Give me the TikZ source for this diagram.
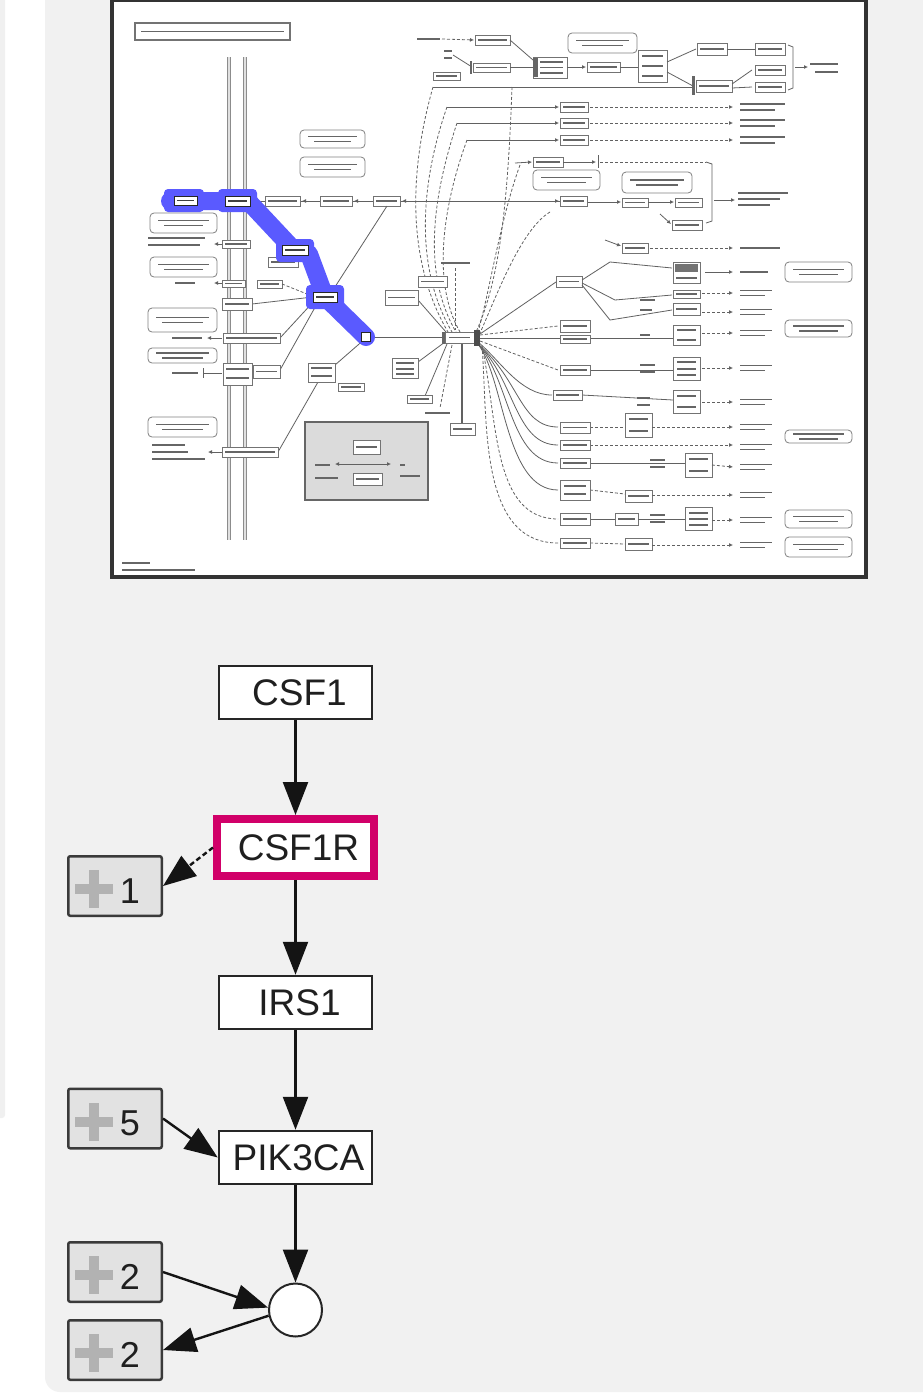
\documentclass[tikz,border=0pt]{standalone}
\usepackage{fontspec}
\setmainfont{Liberation Sans}
\usetikzlibrary{arrows.meta}
\definecolor{panel}{HTML}{F1F1F1}
\definecolor{grpfill}{HTML}{E2E2E2}
\definecolor{grpdraw}{HTML}{3A3A3A}
\definecolor{plusc}{HTML}{B2B2B2}
\definecolor{hilite}{HTML}{D10069}
\definecolor{bluepath}{HTML}{5A5AFF}
\tikzset{
  tb/.style={draw=black!55, line width=0.8pt, fill=white},
  hb/.style={draw=black!85, line width=1pt, fill=white},
  tx/.style={draw=black!60, line width=1.6pt},
  ln/.style={draw=black!62, line width=0.8pt},
  dl/.style={draw=black!62, line width=0.8pt, dash pattern=on 3pt off 2pt},
  rb/.style={draw=black!50, line width=0.8pt, rounded corners=4pt, fill=white},
  ta/.style={-{Latex[length=4pt,width=4pt]}},
  gene/.style={draw=black!85, fill=white, line width=2.5pt, minimum width=153pt,
    minimum height=53pt, inner sep=0pt, font=\fontsize{37}{42}\selectfont, text=black!88},
  grp/.style={draw=grpdraw, fill=grpfill, line width=2.5pt, minimum width=93.5pt,
    minimum height=59.5pt, inner sep=0pt, rounded corners=2pt},
  num/.style={inner sep=0pt, font=\fontsize{36}{40}\selectfont, text=black!88},
  arr/.style={-{Triangle[length=33pt,width=25pt]}, line width=2.4pt, draw=black!92},
}
\newcommand\tbx[4]{\draw[tb] ({#1},{#2}) rectangle ({#3},{#4});
  \draw[tx] ({#1+3},{(#2+#4)/2}) -- ({#3-3},{(#2+#4)/2});}
\newcommand\hbx[4]{\draw[hb] ({#1},{#2}) rectangle ({#3},{#4});
  \draw[tx,draw=black!75] ({#1+3},{(#2+#4)/2}) -- ({#3-3},{(#2+#4)/2});}
\newcommand\rbx[4]{\draw[rb] ({#1},{#2}) rectangle ({#3},{#4});
  \draw[tx,line width=1.2pt] ({#1+8},{(#2+#4)/2-2.5}) -- ({#3-8},{(#2+#4)/2-2.5});
  \draw[tx,line width=1.2pt] ({#1+14},{(#2+#4)/2+2.5}) -- ({#3-14},{(#2+#4)/2+2.5});}
\newcommand\tmk[3]{\draw[tx,line width=1.3pt] ({#1},{#3}) -- ({#2},{#3});}
\newcommand\plusmark[2]{%
  \begin{scope}[shift={(#1.center)}]
    \fill[plusc] (-40,-2) rectangle (-2,8);
    \fill[plusc] (-26,-16) rectangle (-16,22);
    \node[num] (#1n) at (15,5) {#2};
  \end{scope}}
\begin{document}
\begin{tikzpicture}[x=1pt,y=-1pt]
\useasboundingbox (0,0) rectangle (923,1398);
\fill[white] (0,0) rectangle (923,1398);
\fill[black!6, rounded corners=3pt] (-5,-5) rectangle (5,1118);
\fill[panel, rounded corners=15pt] (45,-30) rectangle (960,1392);

% ---------------- thumbnail -----------------
\fill[white] (112,0) rectangle (866,577);
% membrane
\draw[black!45, line width=3.5pt] (229,57) -- (229,540);
\draw[black!45, line width=3.5pt] (245,57) -- (245,540);
\draw[black!12, line width=1.2pt] (229,57) -- (229,540);
\draw[black!12, line width=1.2pt] (245,57) -- (245,540);
% title
\draw[tb, line width=1.2pt] (135,23) rectangle (290,40);
\draw[tx] (141,31.5) -- (284,31.5);
% upper block
\tmk{417}{440}{39}
\draw[dl,ta] (442,39) -- (474,40);
\tbx{475}{35}{510}{45}
\tmk{444}{452}{51}\tmk{444}{452}{58}
\draw[ln] (453,55) -- (472,67);
\tbx{473}{63}{510}{72}
\fill[black!60] (470,61) rectangle (472,74);
\tbx{433}{72}{460}{80}
\draw[ln] (510,40) -- (533,60);
\draw[ln] (510,67) -- (533,67);
\draw[tb] (533,57) rectangle (567,78);
\fill[black!60] (533,58) rectangle (538,77);
\tmk{540}{563}{62}\tmk{540}{563}{67.5}\tmk{540}{563}{73}
\rbx{568}{33}{637}{53}
\draw[ln,ta] (567,67) -- (586,67);
\tbx{587}{62}{620}{72}
\draw[ln] (620,67) -- (638,67);
\draw[tb] (638,50) rectangle (667,82);
\tmk{642}{663}{56}\tmk{642}{663}{66}\tmk{642}{663}{76}
\draw[ln] (667,62) -- (696,49);
\draw[ln] (667,72) -- (693,86);
\tbx{697}{43}{727}{55}
\draw[ln] (727,49) -- (755,49);
\tbx{755}{43}{785}{55}
\fill[black!60] (692,76) rectangle (695,95);
\tbx{696}{80}{732}{92}
\draw[ln] (732,84) -- (752,70);
\draw[ln] (732,88) -- (752,87);
\tbx{755}{65}{785}{75}
\tbx{755}{82}{785}{92}
\draw[ln] (788,45) -- (793,47) -- (793,88) -- (788,90);
\draw[ln,ta] (795,67) -- (808,67);
\tmk{810}{838}{64}\tmk{815}{838}{72}
\draw[ln] (433,87) -- (692,87);
% three rows
\foreach \y/\x in {107/447,123/457,140/467}{
  \draw[ln,ta] (\x,\y) -- (559,\y);
  \tbx{560}{\y-5}{588}{\y+5}
  \draw[dl,ta] (590,\y) -- (733,\y);
  \tmk{740}{785}{\y-3}\tmk{740}{775}{\y+3}
}
% converging dashed lines
\draw[dl] (433,87) .. controls (415,150) and (400,250) .. (448,332);
\draw[dl] (447,107) .. controls (425,170) and (410,260) .. (452,332);
\draw[dl] (457,123) .. controls (435,190) and (420,270) .. (456,332);
\draw[dl] (467,140) .. controls (445,200) and (430,280) .. (460,332);
\draw[dl] (512,87) .. controls (508,200) and (500,280) .. (476,332);
\draw[dl] (520,165) .. controls (500,220) and (490,290) .. (478,332);
\draw[dl] (550,212) .. controls (520,230) and (495,300) .. (480,333);
% mid upper
\draw[ln,ta] (515,163) -- (532,162);
\tbx{533}{157}{563}{167}
\draw[ln,ta] (563,162) -- (596,162);
\draw[ln] (598,155) -- (598,168);
\rbx{533}{170}{600}{190}
\rbx{300}{130}{365}{148}
\rbx{300}{157}{365}{177}
% chain y=201
\draw[ln] (250,201) -- (560,201);
\draw[ln,ta] (320,201) -- (302,201);
\draw[ln,ta] (373,201) -- (354,201);
\draw[ln,ta] (410,201) -- (402,201);
\draw[ln,ta] (540,201) -- (559,201);
\tbx{265}{196}{300}{206}
\tbx{320}{196}{352}{206}
\tbx{373}{196}{400}{206}
\tbx{560}{196}{587}{206}
\draw[ln,ta] (588,202) -- (621,202);
\tbx{622}{198}{648}{207}
\draw[ln,ta] (648,202) -- (674,202);
\tbx{675}{198}{702}{207}
\draw[ln,ta] (660,214) -- (671,224);
\tbx{672}{220}{702}{230}
\rbx{622}{172}{692}{193}
\draw[dl] (600,162) -- (706,162);
\draw[ln] (706,162) -- (712,164) -- (712,221) -- (706,223);
\draw[ln,ta] (714,200) -- (735,200);
\tmk{738}{788}{193}\tmk{738}{780}{199}\tmk{738}{770}{205}
% right rows
\draw[ln,ta] (605,240) -- (621,246);
\tbx{622}{243}{648}{253}
\draw[dl,ta] (650,248) -- (733,248);
\tmk{740}{780}{248}
\tbx{556}{276}{582}{287}
\draw[ln] (582,280) -- (610,262) -- (672,268);
\draw[ln] (582,283) -- (615,300) -- (672,295);
\draw[ln] (582,285) -- (610,320) -- (672,310);
\draw[tb] (673,262) rectangle (700,283);
\fill[black!55] (675,264) rectangle (698,272);
\tmk{676}{697}{278}
\draw[ln,ta] (705,272) -- (733,272);
\tmk{740}{768}{272}
\rbx{785}{262}{852}{282}
\tbx{673}{290}{700}{298}
\tbx{673}{303}{700}{315}
\draw[tb] (673,325) rectangle (700,345); \tmk{677}{696}{330}\tmk{677}{696}{340}
\draw[tb] (673,357) rectangle (700,380); \tmk{677}{696}{362}\tmk{677}{696}{369}\tmk{677}{696}{375}
\draw[tb] (673,390) rectangle (700,413); \tmk{677}{696}{396}\tmk{677}{696}{407}
\draw[tb] (685,453) rectangle (712,477); \tmk{689}{708}{459}\tmk{689}{708}{471}
\draw[tb] (685,507) rectangle (712,530); \tmk{689}{708}{513}\tmk{689}{708}{519}\tmk{689}{708}{525}
\draw[tb] (625,413) rectangle (652,437); \tmk{629}{648}{419}\tmk{629}{648}{431}
\tbx{625}{490}{652}{502}
\tbx{615}{513}{638}{525}
\tbx{625}{538}{652}{550}
\tmk{640}{655}{300}\tmk{640}{652}{310}\tmk{640}{650}{335}
\tmk{640}{655}{365}\tmk{640}{655}{372}\tmk{637}{650}{398}\tmk{637}{650}{405}
\tmk{650}{665}{460}\tmk{650}{665}{467}\tmk{650}{665}{515}\tmk{650}{665}{522}
\foreach \y in {293,312,333,368,402}{\draw[dl,ta] (702,\y) -- (733,\y);}
\foreach \y in {293,312,333,368,402,427,447,467,495,520,545}{
  \tmk{740}{772}{\y-2.5}\tmk{740}{765}{\y+2.5}}
\rbx{785}{320}{852}{337}
\rbx{785}{430}{852}{443}
\rbx{785}{510}{852}{528}
\rbx{785}{537}{852}{557}
% column x 560-590
\draw[ln] (480,338) -- (673,338);
\draw[ln] (590,370) -- (673,370);
\draw[ln] (582,395) -- (673,400);
\draw[dl] (590,427) -- (625,427); \draw[dl,ta] (652,427) -- (733,427);
\draw[dl,ta] (590,445) -- (733,445);
\draw[ln] (590,463) -- (685,463); \draw[dl,ta] (712,465) -- (733,467);
\draw[dl] (590,490) -- (625,494); \draw[dl,ta] (652,495) -- (733,495);
\draw[ln] (590,519) -- (615,519); \draw[ln] (638,519) -- (685,519); \draw[dl,ta] (712,520) -- (733,520);
\draw[dl] (590,543) -- (625,544); \draw[dl,ta] (652,545) -- (733,545);
\draw[dl] (480,335) -- (558,326);
\draw[dl] (480,341) -- (558,370);
\draw[ln] (478,342) .. controls (500,360) and (520,395) .. (552,395);
\foreach \y/\c in {427/520,445/515,463/510,490/505}{
  \draw[ln] (478,344) .. controls (\c,380) and (\c,\y) .. (558,\y);}
\draw[dl] (482,346) .. controls (498,420) and (492,519) .. (558,519);
\draw[dl] (482,346) .. controls (488,420) and (478,543) .. (558,543);
\draw[ln] (556,282) -- (480,334);
\tbx{560}{320}{590}{332}
\tbx{560}{335}{590}{343}
\tbx{560}{365}{590}{375}
\tbx{553}{390}{582}{400}
\tbx{560}{422}{590}{433}
\tbx{560}{440}{590}{450}
\tbx{560}{458}{590}{468}
\draw[tb] (560,480) rectangle (590,500); \tmk{564}{586}{486}\tmk{564}{586}{494}
\tbx{560}{513}{590}{525}
\tbx{560}{538}{590}{548}
% central node
\draw[ln] (368,337) -- (444,337);
\draw[ln] (445,342) -- (418,362);
\draw[ln] (447,344) -- (425,396);
\draw[dl] (452,345) -- (440,408);
\draw[ln] (418,300) -- (446,332);
\draw[ln] (387,206) -- (333,290);
\draw[dl] (455,268) -- (455,330);
\draw[ln, line width=1.5pt] (462,343) -- (462,423);
\draw[tb] (445,332) rectangle (477,343);
\tmk{449}{470}{337.5}
\fill[black!70] (474,330) rectangle (480,346);
\fill[black!60] (442,332) rectangle (445,344);
\tbx{450}{423}{475}{435}
\draw[tb] (392,358) rectangle (418,378); \tmk{396}{414}{363}\tmk{396}{414}{369}\tmk{396}{414}{374}
\tbx{407}{395}{432}{403}
\tmk{425}{450}{413}
\tbx{385}{290}{418}{305}
\tbx{418}{276}{447}{287}
\tmk{441}{470}{263}
% left side
\rbx{150}{213}{217}{233}
\tmk{148}{205}{238}\tmk{148}{200}{245}
\rbx{150}{257}{217}{277}
\tmk{175}{195}{283}
\draw[ln,ta] (222,244) -- (214,244);
\tbx{222}{240}{250}{248}
\draw[ln,ta] (222,283) -- (214,283);
\tbx{222}{280}{245}{287}
\tbx{257}{280}{282}{288}
\tbx{268}{257}{298}{267}
\draw[ln] (252,304) -- (313,297);
\draw[ln] (280,338) -- (315,300);
\draw[ln] (280,370) -- (318,302);
\draw[dl] (282,284) -- (312,296);
\draw[ln] (278,452) -- (318,382);
\draw[ln] (335,365) -- (366,338);
\tbx{222}{298}{252}{310}
\tbx{223}{333}{280}{343}
\draw[tb] (223,363) rectangle (252,385); \tmk{226}{249}{369}\tmk{226}{249}{378}
\tbx{253}{365}{280}{378}
\tbx{222}{447}{278}{457}
\rbx{148}{308}{217}{332}
\rbx{148}{348}{217}{363}
\rbx{148}{417}{217}{437}
\tmk{172}{202}{338}
\draw[ln,ta] (222,338) -- (207,338);
\tmk{172}{198}{373}
\draw[ln] (203,368) -- (203,378);
\draw[ln] (203,373) -- (222,373);
\tmk{152}{185}{445}\tmk{152}{188}{452}\tmk{152}{205}{459}
\draw[ln,ta] (222,452) -- (208,452);
\draw[tb] (308,363) rectangle (335,382); \tmk{311}{332}{368}\tmk{311}{332}{376}
\tbx{338}{383}{364}{391}
\tmk{122}{150}{563}\tmk{122}{195}{570}
% grey inset box
\draw[draw=black!60, fill=black!14, line width=2pt] (305,422) rectangle (428,500);
\tbx{353}{440}{380}{454}
\tbx{353}{473}{382}{485}
\draw[ln,{Latex[length=4pt,width=4pt]}-{Latex[length=4pt,width=4pt]}] (335,464) -- (391,464);
\tmk{315}{330}{465}\tmk{315}{338}{478}\tmk{400}{420}{476}\tmk{400}{405}{465}
% blue highlighted path
\draw[bluepath, line width=18pt, line join=round, line cap=round]
  (170,201) -- (248,201) -- (293,249) -- (309,254) -- (325,297) -- (366,337);
\fill[bluepath, rounded corners=4pt] (164,189) rectangle (204,212);
\fill[bluepath, rounded corners=4pt] (218,189) rectangle (257,212);
\fill[bluepath, rounded corners=4pt] (276,239) rectangle (314,262);
\fill[bluepath, rounded corners=4pt] (306,285) rectangle (344,309);
\hbx{174}{196}{197}{205}
\hbx{225}{196}{250}{206}
\hbx{282}{245}{308}{255}
\hbx{313}{292}{337}{302}
\draw[hb] (361,332) rectangle (370,341);
% frame
\draw[black!80, line width=4pt] (112,0) rectangle (866,577);

% ---------------- graph -----------------
\node[gene] (csf1) at (295.5,692.5) {\hspace*{8pt}CSF1};
\node[gene, draw=hilite, line width=8pt, minimum width=157pt, minimum height=57pt] (csf1r) at (295.5,847.5) {\hspace*{6pt}CSF1R};
\node[gene] (irs1) at (295.5,1002.5) {\hspace*{8pt}IRS1};
\node[gene] (pik) at (295.5,1157.5) {\hspace*{6pt}PIK3CA};
\node[circle, draw=black!85, fill=white, line width=2pt, minimum size=53pt, inner sep=0pt] (cx) at (295.5,1310) {};

\node[grp] (g1) at (115,886) {};
\plusmark{g1}{1}
\node[grp] (g5) at (115,1118.5) {};
\plusmark{g5}{5}
\node[grp] (g2a) at (115,1272) {};
\plusmark{g2a}{2}
\node[grp] (g2b) at (115,1350) {};
\plusmark{g2b}{2}

\draw[arr] (csf1.south) -- (csf1r.north);
\draw[arr] (csf1r.south) -- (irs1.north);
\draw[arr] (irs1.south) -- (pik.north);
\draw[arr] (pik.south) -- (cx.north);
\draw[arr, dash pattern=on 5pt off 3pt] (csf1r.west) -- (g1.east);
\draw[arr] (g5.east) -- (pik.west);
\draw[arr] (g2a.east) -- (cx.175);
\draw[arr] (cx.192) -- (g2b.east);
\end{tikzpicture}
\end{document}
